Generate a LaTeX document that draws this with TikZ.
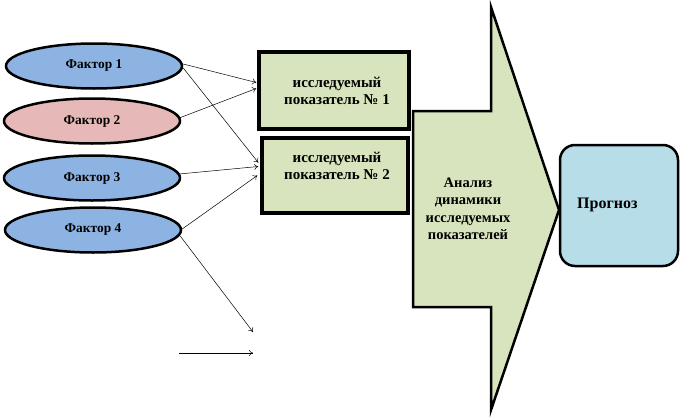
\documentclass[tikz,border=0pt]{standalone}
\usepackage{fontspec}
\setmainfont{Liberation Serif}
\usetikzlibrary{arrows.meta,shapes.geometric}
\definecolor{fblue}{HTML}{8DB3E2}
\definecolor{fpink}{HTML}{E6B9B8}
\definecolor{fgreen}{HTML}{D7E4BD}
\definecolor{fcyan}{HTML}{B7DDE8}
\tikzset{
  factor/.style={ellipse,draw=black,line width=2.5pt,fill=fblue,minimum width=176pt,minimum height=45pt,inner sep=0pt,font=\fontsize{13.4}{15}\selectfont\bfseries},
  ibox/.style={rectangle,draw=black,line width=3.5pt,fill=fgreen,inner sep=0pt},
  conn/.style={-{To[length=4pt,width=6pt]},line width=0.5pt},
  txt/.style={font=\fontsize{15}{17.5}\selectfont\bfseries,align=center,inner sep=0pt},
}
\begin{document}
\begin{tikzpicture}[x=1pt,y=-1pt]
\useasboundingbox (0,0) rectangle (681,418);
% factors
\node[factor] (f1) at (94,66) {Фактор 1};
\node[factor,fill=fpink] (f2) at (92,121) {Фактор 2};
\node[factor] (f3) at (92,178) {Фактор 3};
\node[factor] (f4) at (93,230) {Фактор 4};
% indicator boxes
\node[ibox,minimum width=150pt,minimum height=77pt] (b1) at (334,90.5) {};
\node[txt] (b1t) at (337,91) {исследуемый\\показатель № 1};
\node[ibox,minimum width=146pt,minimum height=75pt] (b2) at (335,175.5) {};
\node[txt] (b2t) at (337,166) {исследуемый\\показатель № 2};
% big arrow
\draw[line width=2.5pt,fill=fgreen,line join=miter]
  (413,111) -- (491,111) -- (491,7) -- (559,210) -- (491,410) -- (491,307) -- (413,307) -- cycle;
\node[txt,font=\fontsize{14.5}{17.5}\selectfont\bfseries] (an) at (468,209) {Анализ\\динамики\\исследуемых\\показателей};
% forecast
\node[rectangle,rounded corners=15pt,draw=black,line width=2.5pt,fill=fcyan,minimum width=118pt,minimum height=121pt,inner sep=0pt] (pr) at (619,205.5) {};
\node[txt,font=\fontsize{16}{18}\selectfont\bfseries,anchor=west] (prt) at (577,205) {Прогноз};
% free coordinates
\coordinate (e4) at (253,332);
\coordinate (s5) at (179,353);
\coordinate (e5) at (253,353);
% connectors
\draw[conn] ([yshift=2pt]f1.east) -- ([xshift=-1pt,yshift=8pt]b1.west);
\draw[conn] ([yshift=-2pt]f1.east) -- ([xshift=-2pt,yshift=13pt]b2.west);
\draw[conn] ([xshift=-2pt,yshift=3pt]f2.east) -- ([xshift=-1pt,yshift=2pt]b1.west);
\draw[conn] ([xshift=-2pt,yshift=4pt]f3.east) -- ([xshift=-2pt,yshift=9pt]b2.west);
\draw[conn] ([yshift=1pt]f4.east) -- ([xshift=-3pt,yshift=0pt]b2.west);
\draw[conn] ([xshift=-2pt,yshift=-6pt]f4.east) -- (e4);
\draw[conn] (s5) -- (e5);
\end{tikzpicture}
\end{document}
